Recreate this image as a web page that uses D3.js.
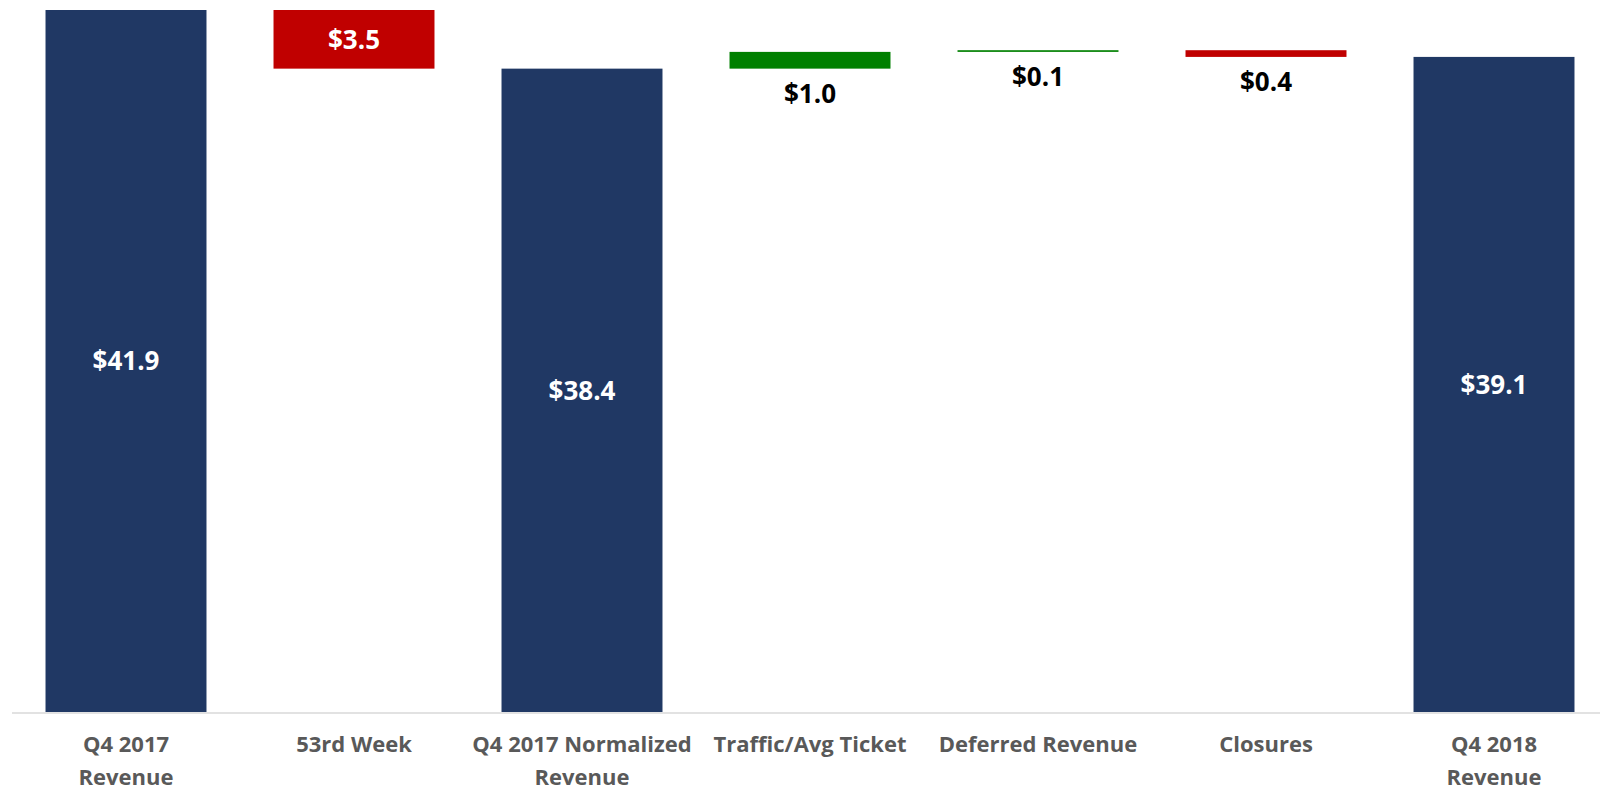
<!DOCTYPE html>
<html>
<head>
<meta charset="utf-8">
<script src="https://cdnjs.cloudflare.com/ajax/libs/d3/7.8.5/d3.min.js"></script>
<style>
  html, body { margin: 0; padding: 0; background: #fff; }
  svg { display: block; }
</style>
</head>
<body>
<script>
var w = 1600;
var h = 792;

// waterfall data
var categories = ["Q4 2017 Revenue", "53rd Week", "Q4 2017 Normalized Revenue",
    "Traffic/Avg Ticket", "Deferred Revenue", "Closures", "Q4 2018 Revenue"];
var tickLabels = [["Q4 2017", "Revenue"], ["53rd Week"], ["Q4 2017 Normalized", "Revenue"],
    ["Traffic/Avg Ticket"], ["Deferred Revenue"], ["Closures"], ["Q4 2018", "Revenue"]];
var values = [41.9, -3.5, 38.4, 1.0, 0.1, -0.4, 39.1];
var kinds = ["total", "delta", "total", "delta", "delta", "delta", "total"];
var valueLabels = ["$41.9", "$3.5", "$38.4", "$1.0", "$0.1", "$0.4", "$39.1"];

var navy = "#203864", red = "#c00000", green = "#008000";
var font = "'Open Sans', sans-serif";

//work out start/end of each bar
var running = 0;
var bars = categories.map(function (c, i) {
    var start, end;
    if (kinds[i] === "total") {
        start = 0;
        end = values[i];
        running = values[i];
    } else {
        start = running;
        end = running + values[i];
        running = end;
    }
    return {cat: c, i: i, start: start, end: end, value: values[i], kind: kinds[i]};
});

var xScale = d3.scaleBand()
    .domain(categories)
    .range([12, 1608])
    .paddingInner(0.294)
    .paddingOuter(0.147);

var yScale = d3.scaleLinear()
    .domain([0, 41.9])
    .range([712, 10]);

var svg = d3.select("body")
    .append("svg")
    .attr("width", w)
    .attr("height", h);

function fillFor(d) {
    if (d.kind === "total") return navy;
    return d.value < 0 ? red : green;
}

svg.selectAll("rect.bar")
    .data(bars)
    .enter()
    .append("rect")
    .attr("class", "bar")
    .attr("x", function (d) { return xScale(d.cat); })
    .attr("width", xScale.bandwidth())
    .attr("y", function (d) { return yScale(Math.max(d.start, d.end)); })
    .attr("height", function (d) { return Math.abs(yScale(d.start) - yScale(d.end)); })
    .attr("fill", fillFor);

// baseline
svg.append("line")
    .attr("x1", 12)
    .attr("x2", w)
    .attr("y1", yScale(0) + 1)
    .attr("y2", yScale(0) + 1)
    .attr("stroke", "#d9d9d9")
    .attr("stroke-width", 1.5);

//value labels: inside for big bars, below for small ones
svg.selectAll("text.val")
    .data(bars)
    .enter()
    .append("text")
    .attr("class", "val")
    .attr("x", function (d) { return xScale(d.cat) + xScale.bandwidth() / 2; })
    .attr("y", function (d) {
        var top = yScale(Math.max(d.start, d.end));
        var bottom = yScale(Math.min(d.start, d.end));
        if (bottom - top > 40) return (top + bottom) / 2;
        return bottom + 25;
    })
    .attr("dy", "0.36em")
    .attr("text-anchor", "middle")
    .attr("font-family", font)
    .attr("font-weight", "bold")
    .attr("font-size", "26px")
    .attr("fill", function (d) {
        var size = Math.abs(yScale(d.start) - yScale(d.end));
        return size > 40 ? "#fff" : "#000";
    })
    .text(function (d) { return valueLabels[d.i]; });

// category labels
var cats = svg.selectAll("text.cat")
    .data(bars)
    .enter()
    .append("text")
    .attr("class", "cat")
    .attr("text-anchor", "middle")
    .attr("font-family", font)
    .attr("font-weight", "bold")
    .attr("font-size", "22px")
    .attr("fill", "#595959");

cats.selectAll("tspan")
    .data(function (d) {
        return tickLabels[d.i].map(function (t, k) {
            return {t: t, k: k, x: xScale(d.cat) + xScale.bandwidth() / 2};
        });
    })
    .enter()
    .append("tspan")
    .attr("x", function (d) { return d.x; })
    .attr("y", function (d) { return 752 + d.k * 33; })
    .text(function (d) { return d.t; });
</script>
</body>
</html>
